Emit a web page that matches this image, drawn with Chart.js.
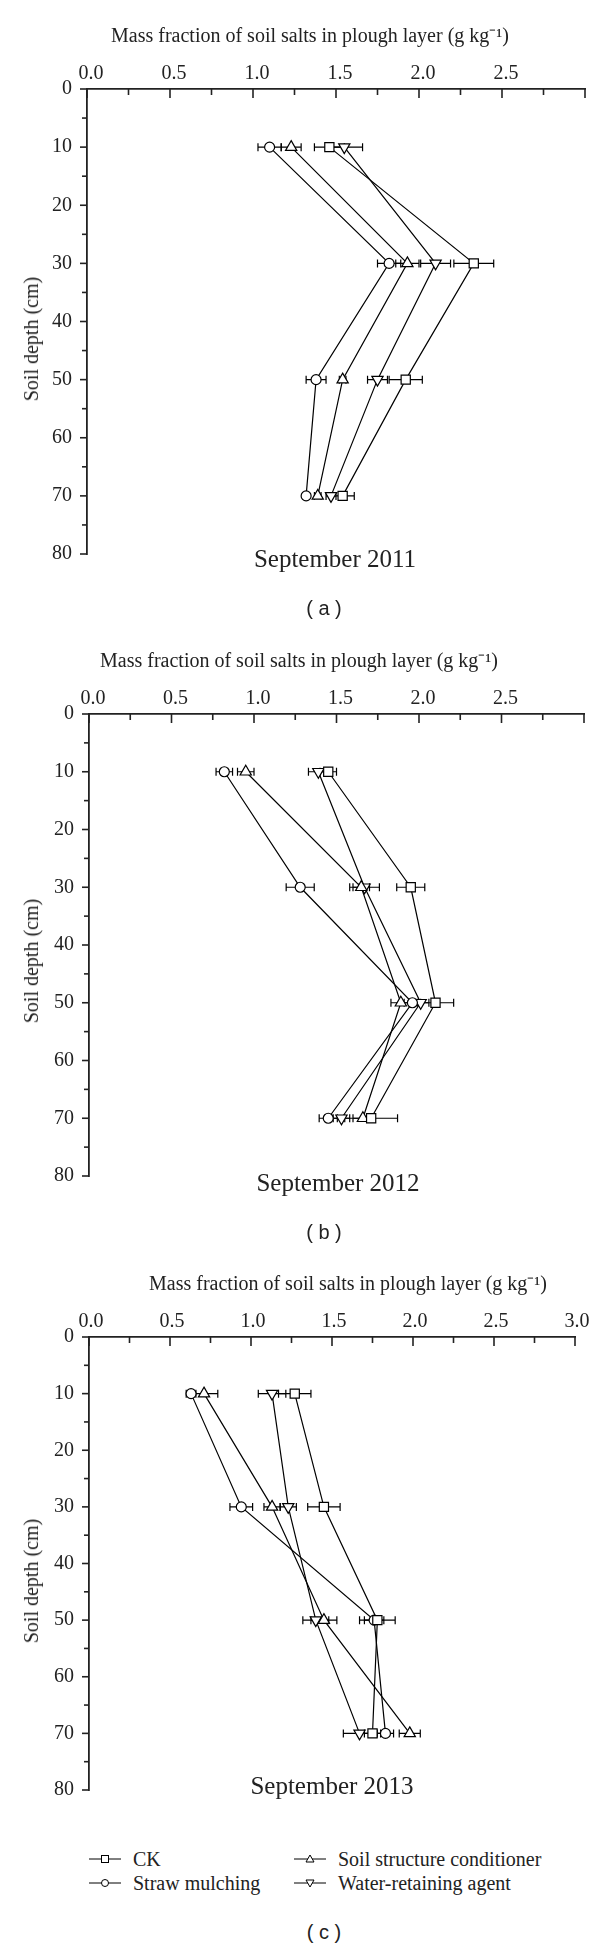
<!DOCTYPE html>
<html>
<head>
<meta charset="utf-8">
<script src="https://cdn.jsdelivr.net/npm/chart.js@4.4.0/dist/chart.umd.min.js"></script>
<style>
  body { margin: 0; background: #fff; }
  #page { position: relative; width: 600px; height: 1947px; font-family: 'Liberation Serif', serif; color: #222; overflow: hidden; }
  .panel { position: absolute; left: 0; }
  .txt { position: absolute; white-space: nowrap; transform: translate(-50%, -50%); line-height: 1; }
  .xtitle { font-size: 20px; }
  .ytitle { font-size: 20px; transform: translate(-50%, -50%) rotate(-90deg); }
  .month { font-size: 25px; }
  .cap { font-family: 'Liberation Sans', sans-serif; font-size: 20px; }
  .leg { position: absolute; font-size: 20px; white-space: nowrap; line-height: 1; transform: translateY(-50%); display: flex; align-items: center; }
  .leg svg { margin-right: 12px; }
</style>
</head>
<body>
<div id="page">
  <canvas id="chartA" class="panel" width="600" height="600" style="top:0px"></canvas>
  <canvas id="chartB" class="panel" width="600" height="600" style="top:620px"></canvas>
  <canvas id="chartC" class="panel" width="600" height="580" style="top:1245px"></canvas>

  <div class="txt xtitle" style="left:310px; top:35px">Mass fraction of soil salts in plough layer (g kg⁻¹)</div>
  <div class="txt ytitle" style="left:31px; top:339px">Soil depth (cm)</div>
  <div class="txt month" style="left:335px; top:558px">September 2011</div>
  <div class="txt cap" style="left:324px; top:608px">( a )</div>

  <div class="txt xtitle" style="left:299px; top:660px">Mass fraction of soil salts in plough layer (g kg⁻¹)</div>
  <div class="txt ytitle" style="left:31px; top:961px">Soil depth (cm)</div>
  <div class="txt month" style="left:338px; top:1182px">September 2012</div>
  <div class="txt cap" style="left:324px; top:1232px">( b )</div>

  <div class="txt xtitle" style="left:348px; top:1283px">Mass fraction of soil salts in plough layer (g kg⁻¹)</div>
  <div class="txt ytitle" style="left:31px; top:1581px">Soil depth (cm)</div>
  <div class="txt month" style="left:332px; top:1785px">September 2013</div>

  <div id="legend"></div>
  <div class="txt cap" style="left:324px; top:1932px">( c )</div>
</div>

<script>
// depths sampled in each profile (cm)
const depths = [10, 30, 50, 70];
const seriesNames = ['CK', 'Straw mulching', 'Soil structure conditioner', 'Water-retaining agent'];

// September 2011 (g/kg) and standard deviations
const ck2011 = [1.46, 2.33, 1.92, 1.54];
const straw2011 = [1.10, 1.82, 1.38, 1.32];
const cond2011 = [1.23, 1.93, 1.54, 1.39];
const water2011 = [1.55, 2.10, 1.75, 1.47];
const ck2011Sd = [0.09, 0.12, 0.10, 0.07];
const straw2011Sd = [0.07, 0.07, 0.06, 0.02];
const cond2011Sd = [0.06, 0.07, 0.02, 0.02];
const water2011Sd = [0.11, 0.09, 0.06, 0.03];

// September 2012
const ck2012 = [1.45, 1.95, 2.10, 1.71];
const straw2012 = [0.82, 1.28, 1.96, 1.45];
const cond2012 = [0.95, 1.65, 1.89, 1.66];
const water2012 = [1.39, 1.67, 2.01, 1.53];
const ck2012Sd = [0.05, 0.085, 0.11, 0.16];
const straw2012Sd = [0.05, 0.085, 0.05, 0.055];
const cond2012Sd = [0.05, 0.05, 0.06, 0.06];
const water2012Sd = [0.06, 0.09, 0.05, 0.05];

// September 2013
const ck2013 = [1.27, 1.45, 1.78, 1.75];
const straw2013 = [0.63, 0.94, 1.76, 1.83];
const cond2013 = [0.71, 1.13, 1.45, 1.98];
const water2013 = [1.13, 1.23, 1.40, 1.67];
const ck2013Sd = [0.10, 0.10, 0.11, 0.05];
const straw2013Sd = [0.03, 0.07, 0.06, 0.05];
const cond2013Sd = [0.085, 0.05, 0.08, 0.065];
const water2013Sd = [0.085, 0.05, 0.08, 0.10];

const xTickLabelsAB = ['0.0', '0.5', '1.0', '1.5', '2.0', '2.5'];
const xTickLabelsC = ['0.0', '0.5', '1.0', '1.5', '2.0', '2.5', '3.0'];

const serif = 'Liberation Serif';
const ink = '#222';

// marker look for each treatment
const markers = [
    { pointStyle: 'rect', radius: 6.5, rotation: 0 },
    { pointStyle: 'circle', radius: 5, rotation: 0 },
    { pointStyle: 'triangle', radius: 6.5, rotation: 0 },
    { pointStyle: 'triangle', radius: 6.5, rotation: 180 }
];

// horizontal error bars, drawn under the markers
const errorBars = {
    id: 'errorBars',
    beforeDatasetsDraw(chart) {
        const ctx = chart.ctx;
        const xs = chart.scales.x, ys = chart.scales.y;
        ctx.save();
        ctx.strokeStyle = '#000';
        ctx.lineWidth = 1.2;
        chart.data.datasets.forEach(ds => {
            ds.data.forEach((p, i) => {
                const sd = ds.sd[i];
                const x0 = xs.getPixelForValue(p.x - sd);
                const x1 = xs.getPixelForValue(p.x + sd);
                const y = ys.getPixelForValue(p.y);
                ctx.beginPath();
                ctx.moveTo(x0, y); ctx.lineTo(x1, y);
                ctx.moveTo(x0, y - 4); ctx.lineTo(x0, y + 4);
                ctx.moveTo(x1, y - 4); ctx.lineTo(x1, y + 4);
                ctx.stroke();
            });
        });
        ctx.restore();
    }
};

// inward ticks on the top axis, outward ticks on the depth axis
const axisTicks = {
    id: 'axisTicks',
    afterDraw(chart) {
        const { ctx, chartArea: a, scales: { x, y } } = chart;
        ctx.save();
        ctx.strokeStyle = ink;
        ctx.lineWidth = 1.6;
        x.ticks.forEach(t => {
            const px = x.getPixelForValue(t.value);
            const major = Math.abs(t.value * 2 - Math.round(t.value * 2)) < 1e-6;
            ctx.beginPath();
            ctx.moveTo(px, a.top);
            ctx.lineTo(px, a.top + (major ? 9 : 6));
            ctx.stroke();
        });
        y.ticks.forEach(t => {
            const py = y.getPixelForValue(t.value);
            const major = t.value % 10 === 0;
            ctx.beginPath();
            ctx.moveTo(a.left, py);
            ctx.lineTo(a.left - (major ? 7 : 5), py);
            ctx.stroke();
        });
        ctx.restore();
    }
};

function makeDatasets(values, sds) {
    return values.map((vals, k) => ({
        label: seriesNames[k],
        data: depths.map((d, i) => ({ x: vals[i], y: d })),
        sd: sds[k],
        showLine: true,
        borderColor: '#000',
        borderWidth: 1.2,
        pointStyle: markers[k].pointStyle,
        pointRadius: markers[k].radius,
        pointRotation: markers[k].rotation,
        pointBackgroundColor: '#fff',
        pointBorderColor: '#000',
        pointBorderWidth: 1.2
    }));
}

function renderPanel(canvasId, values, sds, tickLabels, box) {
    const ctx = document.getElementById(canvasId).getContext('2d');
    return new Chart(ctx, {
        type: 'scatter',
        data: { datasets: makeDatasets(values, sds) },
        options: {
            responsive: false,
            animation: false,
            devicePixelRatio: 1,
            layout: { padding: { left: 0, top: 0, right: box.right, bottom: box.bottom } },
            plugins: { legend: { display: false }, tooltip: { enabled: false } },
            scales: {
                x: {
                    type: 'linear',
                    position: 'top',
                    min: 0,
                    max: 3,
                    afterFit: s => { s.height = box.top; },
                    afterBuildTicks: s => {
                        s.ticks = [];
                        for (let i = 0; i <= 12; i++) s.ticks.push({ value: i * 0.25 });
                    },
                    ticks: {
                        autoSkip: false,
                        maxRotation: 0,
                        padding: 3,
                        labelOffset: box.labelShift,
                        color: ink,
                        font: { family: serif, size: 20 },
                        callback: v => {
                            const idx = Math.round(v * 2);
                            return Math.abs(v * 2 - idx) < 1e-6 && idx < tickLabels.length ? tickLabels[idx] : '';
                        }
                    },
                    grid: { display: false, drawTicks: false },
                    border: { display: true, color: ink, width: 1.8 }
                },
                y: {
                    type: 'linear',
                    reverse: true,
                    min: 0,
                    max: 80,
                    afterFit: s => { s.width = box.left; },
                    ticks: {
                        stepSize: 5,
                        autoSkip: false,
                        padding: 15,
                        color: ink,
                        font: { family: serif, size: 20 },
                        callback: v => (v % 10 === 0 ? String(v) : '')
                    },
                    grid: { display: false, drawTicks: false },
                    border: { display: true, color: ink, width: 1.8 }
                }
            }
        },
        plugins: [errorBars, axisTicks]
    });
}

renderPanel('chartA',
    [ck2011, straw2011, cond2011, water2011],
    [ck2011Sd, straw2011Sd, cond2011Sd, water2011Sd],
    xTickLabelsAB, { left: 87, top: 89, right: 15, bottom: 46, labelShift: 4 });

renderPanel('chartB',
    [ck2012, straw2012, cond2012, water2012],
    [ck2012Sd, straw2012Sd, cond2012Sd, water2012Sd],
    xTickLabelsAB, { left: 89, top: 94, right: 16, bottom: 44, labelShift: 4 });

renderPanel('chartC',
    [ck2013, straw2013, cond2013, water2013],
    [ck2013Sd, straw2013Sd, cond2013Sd, water2013Sd],
    xTickLabelsC, { left: 89, top: 92, right: 25, bottom: 35, labelShift: 2 });

// legend below the last panel: two columns, filled top-down
function markerSvg(k) {
    const m = markers[k];
    let shape;
    if (m.pointStyle === 'rect') shape = '<rect x="12.5" y="3.5" width="7" height="7" fill="#fff" stroke="#000"/>';
    else if (m.pointStyle === 'circle') shape = '<circle cx="16" cy="7" r="3.5" fill="#fff" stroke="#000"/>';
    else if (m.rotation === 0) shape = '<polygon points="16,3 20,10 12,10" fill="#fff" stroke="#000"/>';
    else shape = '<polygon points="16,11 20,4 12,4" fill="#fff" stroke="#000"/>';
    return '<svg width="32" height="14"><line x1="0" y1="7" x2="32" y2="7" stroke="#000"/>' + shape + '</svg>';
}
const legendSlots = [
    { k: 0, left: 89, top: 1859 },
    { k: 1, left: 89, top: 1883 },
    { k: 2, left: 294, top: 1859 },
    { k: 3, left: 294, top: 1883 }
];
const legendEl = document.getElementById('legend');
legendSlots.forEach(s => {
    const div = document.createElement('div');
    div.className = 'leg';
    div.style.left = s.left + 'px';
    div.style.top = s.top + 'px';
    div.innerHTML = markerSvg(s.k) + '<span>' + seriesNames[s.k] + '</span>';
    legendEl.appendChild(div);
});
</script>
</body>
</html>
